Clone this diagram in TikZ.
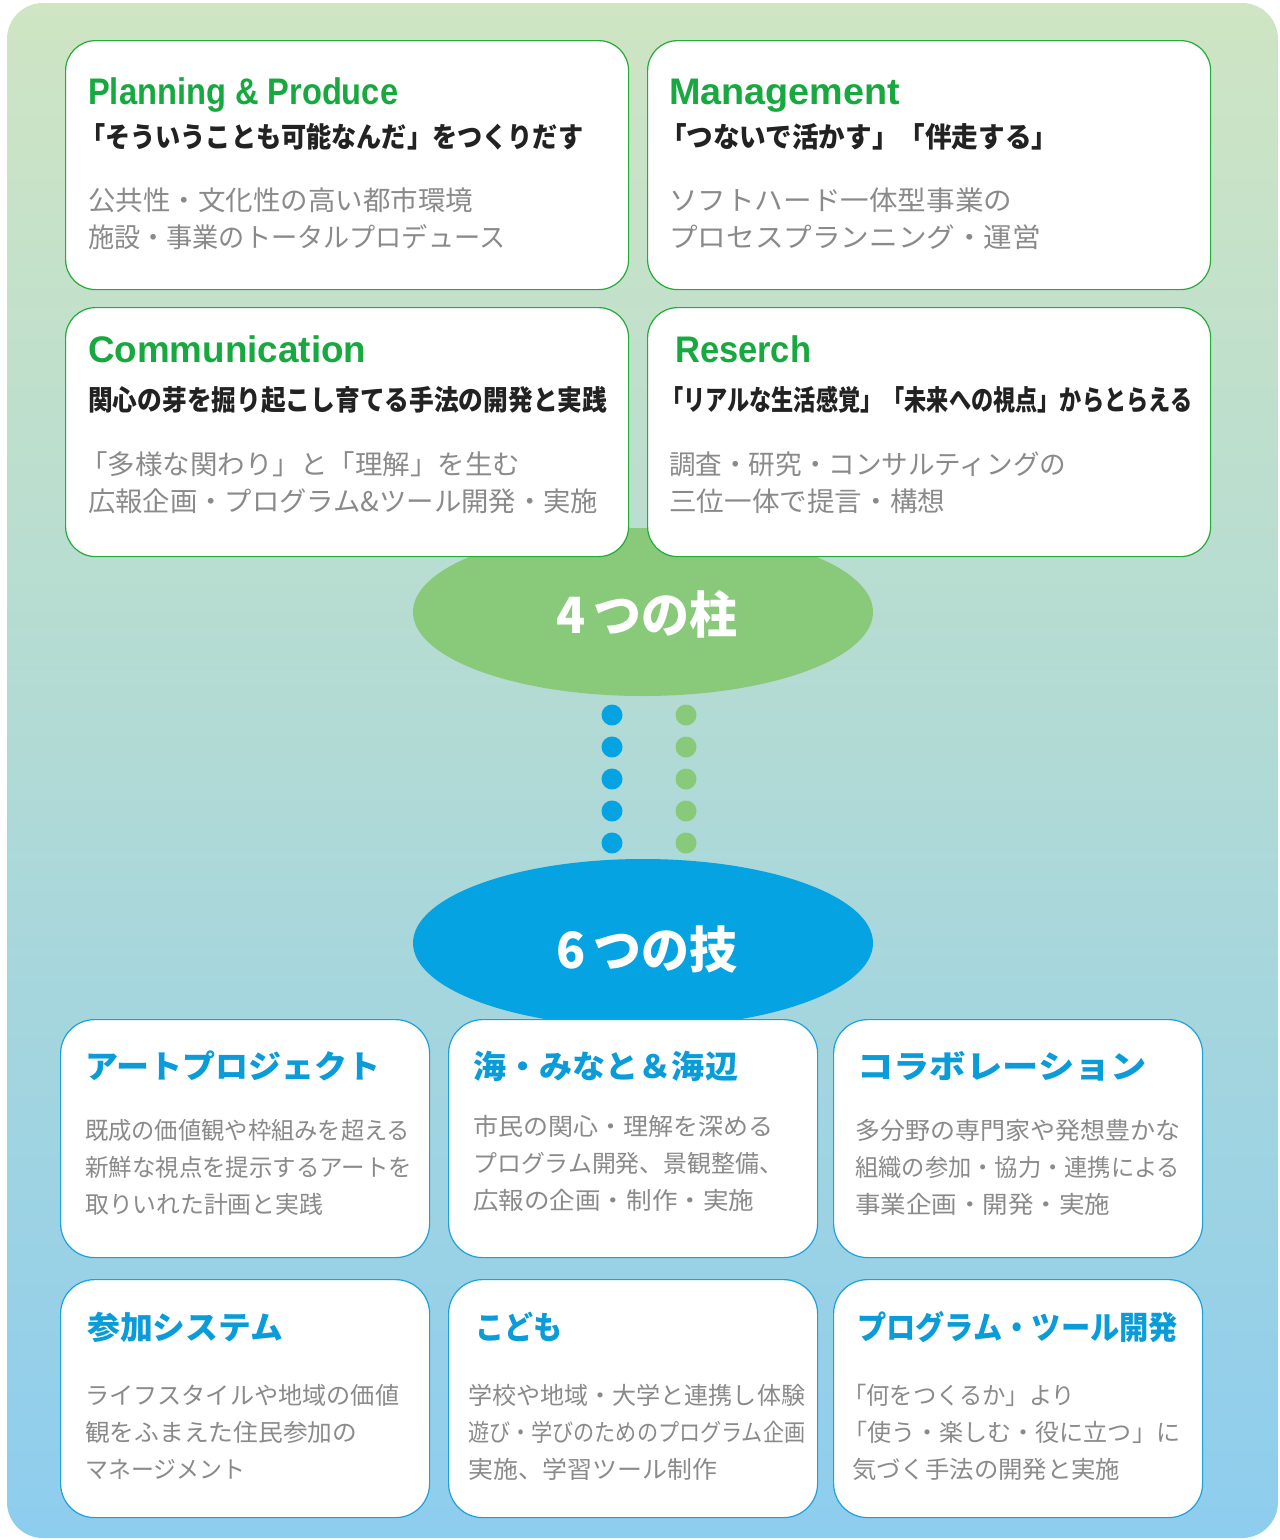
\documentclass[tikz,border=0pt]{standalone}
\usepackage{fontspec}
\setmainfont{Liberation Sans}
\newfontfamily\jp{Noto Sans CJK JP}
\usetikzlibrary{shapes.geometric}
\definecolor{bgtop}{HTML}{CFE5C3}
\definecolor{bgmid}{HTML}{B0DAD6}
\definecolor{bgbot}{HTML}{8DCDEE}
\definecolor{gfill}{HTML}{89C97A}
\definecolor{bfill}{HTML}{05A3E2}
\definecolor{gborder}{HTML}{22AC38}
\definecolor{gtitle}{HTML}{17A93F}
\definecolor{bborder}{HTML}{1DA1DC}
\definecolor{btitle}{HTML}{0A9CD9}
\definecolor{graytxt}{HTML}{8A8A8A}
\definecolor{subtxt}{HTML}{222222}
\newcommand{\fitto}[2]{\resizebox{#1pt}{\height}{#2}}
\tikzset{
  boxg/.style={draw=gborder, line width=1.2pt, fill=white, rounded corners=30pt, minimum width=563pt, minimum height=249pt, anchor=north west, inner sep=0pt},
  boxb/.style={draw=bborder, line width=1.2pt, fill=white, rounded corners=34pt, minimum width=369pt, minimum height=238pt, anchor=north west, inner sep=0pt},
  etitle/.style={anchor=base west, inner sep=0pt, text=gtitle, font=\fontsize{37}{40}\selectfont\bfseries},
  jsub/.style={anchor=west, inner sep=0pt, text=subtxt, font=\jp\fontsize{28}{32}\selectfont\bfseries},
  gtop/.style={anchor=west, inner sep=0pt, text=graytxt, font=\jp\fontsize{27}{32}\selectfont},
  gbot/.style={anchor=west, inner sep=0pt, text=graytxt, font=\jp\fontsize{24}{28}\selectfont},
  btit/.style={anchor=west, inner sep=0pt, text=btitle, font=\jp\fontsize{32}{36}\selectfont\bfseries},
  bigell/.style={ellipse, minimum width=460pt, minimum height=168pt, inner sep=0pt},
  bigtxt/.style={inner sep=0pt, text=white, font=\jp\fontsize{50}{56}\selectfont\bfseries},
  gdot/.style={circle, fill=gfill, minimum size=21pt, inner sep=0pt},
  bdot/.style={circle, fill=bfill, minimum size=21pt, inner sep=0pt}
}
\begin{document}
\begin{tikzpicture}[x=1pt,y=-1pt]
\useasboundingbox (0,0) rectangle (1280,1540);
% background
\shade[top color=bgtop, bottom color=bgbot, middle color=bgmid, rounded corners=36pt] (7,3) rectangle (1278,1538);
% ellipses
\node[bigell, fill=gfill] (e4) at (643,612) {};
\node[bigell, fill=bfill] (e6) at (643,943) {};
\node[bigtxt] (e4t) at (647,614) {\fitto{181}{4\,つの柱}};
\node[bigtxt] (e6t) at (647,950) {\fitto{181}{6\,つの技}};
% dots
\foreach \i/\yy in {1/715,2/747,3/779,4/811,5/843}{
  \node[bdot] (bd\i) at (612,\yy) {};
  \node[gdot] (gd\i) at (686,\yy) {};
}
% top boxes
\node[boxg] (pp) at (65,40) {};
\node[boxg] (mg) at (647,40) {};
\node[boxg] (cm) at (65,307) {};
\node[boxg] (rs) at (647,307) {};
% Planning
\node[etitle] (ppt) at (88,104) {\fitto{310}{Planning \& Produce}};
\node[jsub] (pps) at (80,137) {\fitto{503}{「そういうことも可能なんだ」をつくりだす}};
\node[gtop] (ppa) at (88,200) {\fitto{385}{公共性・文化性の高い都市環境}};
\node[gtop] (ppb) at (88,237) {\fitto{417}{施設・事業のトータルプロデュース}};
% Management
\node[etitle] (mgt) at (669,104) {\fitto{231}{Management}};
\node[jsub] (mgs) at (660,137) {\fitto{398}{「つないで活かす」「伴走する」}};
\node[gtop] (mga) at (669,200) {\fitto{343}{ソフトハード一体型事業の}};
\node[gtop] (mgb) at (669,237) {\fitto{372}{プロセスプランニング・運営}};
% Communication
\node[etitle] (cmt) at (88,362) {\fitto{278}{Communication}};
\node[jsub] (cms) at (88,400) {\fitto{519}{関心の芽を掘り起こし育てる手法の開発と実践}};
\node[gtop] (cma) at (80,464) {\fitto{440}{「多様な関わり」と「理解」を生む}};
\node[gtop] (cmb) at (88,501) {\fitto{510}{広報企画・プログラム\&ツール開発・実施}};
% Reserch
\node[etitle] (rst) at (675,362) {\fitto{136}{Reserch}};
\node[jsub] (rss) at (661,400) {\fitto{531}{「リアルな生活感覚」「未来への視点」からとらえる}};
\node[gtop] (rsa) at (669,464) {\fitto{397}{調査・研究・コンサルティングの}};
\node[gtop] (rsb) at (669,501) {\fitto{276}{三位一体で提言・構想}};
% bottom boxes
\node[boxb] (ap) at (60,1019) {};
\node[boxb] (um) at (448,1019) {};
\node[boxb] (co) at (833,1019) {};
\node[boxb] (sa) at (60,1279) {};
\node[boxb] (kd) at (448,1279) {};
\node[boxb] (pg) at (833,1279) {};
% Art project
\node[btit] (apt) at (85,1066) {\fitto{295}{アートプロジェクト}};
\node[gbot] (apa) at (85,1130) {\fitto{325}{既成の価値観や枠組みを超える}};
\node[gbot] (apb) at (85,1167) {\fitto{327}{新鮮な視点を提示するアートを}};
\node[gbot] (apc) at (85,1204) {\fitto{238}{取りいれた計画と実践}};
% Umi
\node[btit] (umt) at (473,1066) {\fitto{265}{海・みなと＆海辺}};
\node[gbot] (uma) at (473,1126) {\fitto{300}{市民の関心・理解を深める}};
\node[gbot] (umb) at (473,1163) {\fitto{310}{プログラム開発、景観整備、}};
\node[gbot] (umc) at (473,1200) {\fitto{281}{広報の企画・制作・実施}};
% Collaboration
\node[btit] (cot) at (857,1066) {\fitto{290}{コラボレーション}};
\node[gbot] (coa) at (855,1130) {\fitto{325}{多分野の専門家や発想豊かな}};
\node[gbot] (cob) at (855,1167) {\fitto{325}{組織の参加・協力・連携による}};
\node[gbot] (coc) at (855,1204) {\fitto{255}{事業企画・開発・実施}};
% Sanka system
\node[btit] (sat) at (87,1327) {\fitto{196}{参加システム}};
\node[gbot] (saa) at (85,1395) {\fitto{314}{ライフスタイルや地域の価値}};
\node[gbot] (sab) at (85,1432) {\fitto{272}{観をふまえた住民参加の}};
\node[gbot] (sac) at (85,1469) {\fitto{160}{マネージメント}};
% Kodomo
\node[btit] (kdt) at (475,1327) {\fitto{87}{こども}};
\node[gbot] (kda) at (468,1395) {\fitto{337}{学校や地域・大学と連携し体験}};
\node[gbot] (kdb) at (468,1432) {\fitto{337}{遊び・学びのためのプログラム企画}};
\node[gbot] (kdc) at (468,1469) {\fitto{249}{実施、学習ツール制作}};
% Program tool
\node[btit] (pgt) at (857,1327) {\fitto{321}{プログラム・ツール開発}};
\node[gbot] (pga) at (843,1395) {\fitto{232}{「何をつくるか」より}};
\node[gbot] (pgb) at (843,1432) {\fitto{337}{「使う・楽しむ・役に立つ」に}};
\node[gbot] (pgc) at (852,1469) {\fitto{268}{気づく手法の開発と実施}};
\end{tikzpicture}
\end{document}
